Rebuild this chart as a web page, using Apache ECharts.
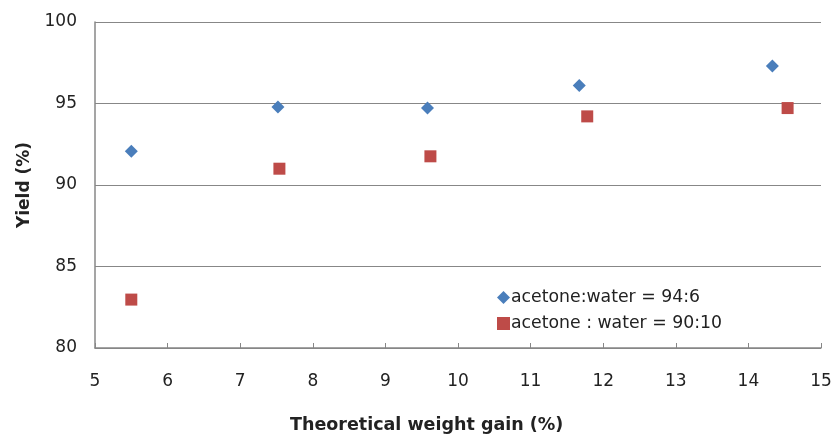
<!DOCTYPE html>
<html>
<head>
<meta charset="utf-8">
<script src="https://cdn.jsdelivr.net/npm/echarts@6/dist/echarts.min.js"></script>
<style>
html,body{margin:0;padding:0;background:#fff;}
#chart{width:836px;height:434px;}
</style>
</head>
<body>
<div id="chart"></div>
<script>
var seriesNames = ['acetone:water = 94:6', 'acetone : water = 90:10'];
var xA = [5.5, 7.52, 9.58, 11.67, 14.33];
var yA = [92.07, 94.78, 94.72, 96.1, 97.3];
var xB = [5.5, 7.54, 9.62, 11.78, 14.54];
var yB = [82.97, 91.0, 91.76, 94.21, 94.72];
var xTitle = 'Theoretical weight gain (%)';
var yTitle = 'Yield (%)';

function pairs(xs, ys) { return xs.map(function (x, i) { return [x, ys[i]]; }); }

var chart = echarts.init(document.getElementById('chart'));
var font = 'DejaVu Sans';
chart.setOption({
  animation: false,
  backgroundColor: '#ffffff',
  textStyle: { fontFamily: font },
  title: {
    text: xTitle,
    left: 290,
    top: 415,
    padding: 0,
    textStyle: { fontFamily: font, fontSize: 17.5, fontWeight: 'bold', color: '#222', lineHeight: 20 }
  },
  grid: { left: 95, right: 15, top: 22, bottom: 86 },
  legend: {
    orient: 'vertical',
    left: 492,
    top: 284,
    itemWidth: 13,
    itemHeight: 13,
    itemGap: 9,
    textStyle: { fontFamily: font, fontSize: 17.3, color: '#222', padding: [0, 0, 0, -4] },
    data: [
      { name: seriesNames[0], icon: 'diamond' },
      { name: seriesNames[1], icon: 'rect' }
    ]
  },
  xAxis: {
    type: 'value',
    min: 5, max: 15, interval: 1,
    axisLine: { show: true, lineStyle: { color: '#878787', width: 1.5 } },
    axisTick: { show: true, inside: true, length: 5, lineStyle: { color: '#878787' } },
    axisLabel: { fontSize: 17, color: '#222', margin: 25, fontFamily: font },
    splitLine: { show: false }
  },
  yAxis: {
    type: 'value',
    min: 80, max: 100, interval: 5,
    name: yTitle,
    nameLocation: 'middle',
    nameGap: 62,
    nameTextStyle: { fontSize: 17, fontWeight: 'bold', color: '#222', fontFamily: font },
    axisLine: { show: true, lineStyle: { color: '#878787', width: 1.5 } },
    axisTick: { show: false },
    axisLabel: { fontSize: 17, color: '#222', margin: 18, fontFamily: font },
    splitLine: { show: true, lineStyle: { color: '#878787', width: 1.2 } }
  },
  series: [
    {
      name: seriesNames[0], type: 'scatter', symbol: 'diamond', symbolSize: 13,
      itemStyle: { color: '#4A7EBB', opacity: 1 },
      data: pairs(xA, yA)
    },
    {
      name: seriesNames[1], type: 'scatter', symbol: 'rect', symbolSize: 12,
      itemStyle: { color: '#BE4B48', opacity: 1 },
      data: pairs(xB, yB)
    }
  ]
});
</script>
</body>
</html>
